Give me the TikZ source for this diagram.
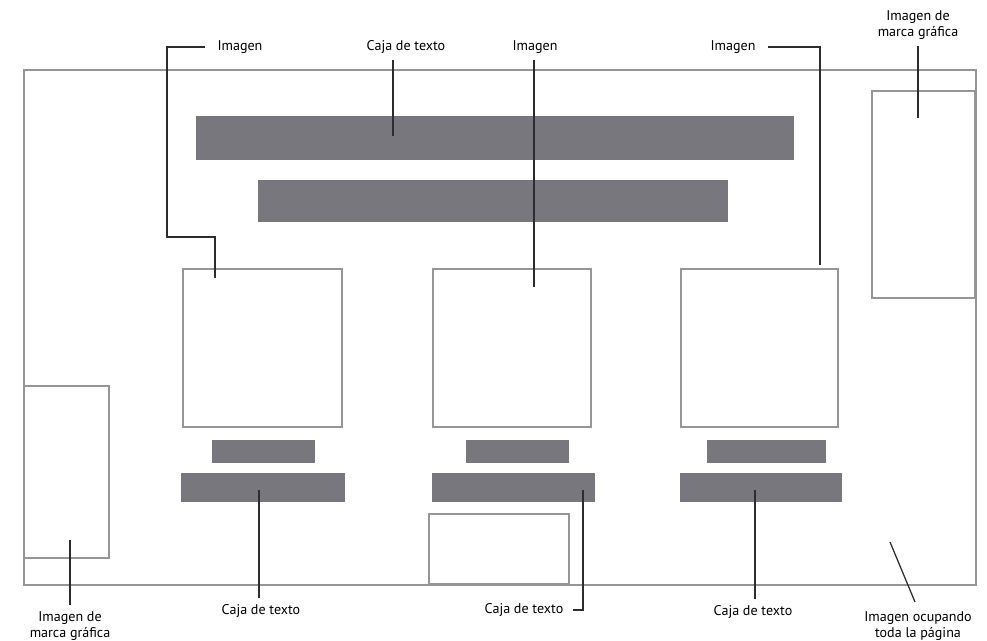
\documentclass[tikz,border=0pt]{standalone}
\usepackage{fontspec}
\setmainfont{PT Sans}
\usetikzlibrary{calc, positioning}
\definecolor{barfill}{RGB}{121,119,126}
\definecolor{framegray}{RGB}{150,150,150}
\definecolor{leadgray}{RGB}{45,45,45}

\tikzset{
  frame/.style={draw=framegray, line width=0.8pt},
  bar/.style={fill=barfill},
  lbl/.style={font=\fontsize{10}{11}\selectfont, inner sep=1pt, align=center, text=black},
  lead/.style={draw=leadgray, line width=0.9pt},
}

\begin{document}
\begin{tikzpicture}[x=0.025cm, y=-0.025cm]
    \useasboundingbox (0,0) rectangle (987,640);
    % page and loose boxes
    \draw[frame] (24,70) rectangle (976,585);
    \draw[frame] (872,91) rectangle (975,298);
    \draw[frame] (24,386) rectangle (109,558);
    \draw[frame] (429,514) rectangle (569,584);
    % title bars
    \fill[bar] (196,116) rectangle (794,160);
    \fill[bar] (258,180) rectangle (728,222);
    % the three columns
    \foreach \xa/\xb/\sa/\sb/\wa/\wb in {183/342/212/315/181/345,
                                         433/591/466/569/432/595,
                                         681/838/707/826/680/842}
    {
        \draw[frame] (\xa,269) rectangle (\xb,427);
        \fill[bar] (\sa,440) rectangle (\sb,463);
        \fill[bar] (\wa,473) rectangle (\wb,502);
    }

    % labels
    \node[lbl] (imgA)   at (240,47)  {Imagen};
    \node[lbl] (cajaT)  at (406,47)  {Caja de texto};
    \node[lbl] (imgB)   at (535,47)  {Imagen};
    \node[lbl] (imgC)   at (733,47)  {Imagen};
    \node[lbl] (marcaT) at (918,25)  {Imagen de\\marca gráfica};
    \node[lbl] (marcaB) at (70,626)  {Imagen de\\marca gráfica};
    \node[lbl] (cajaA)  at (261,611) {Caja de texto};
    \node[lbl] (cajaB)  at (524,610) {Caja de texto};
    \node[lbl] (cajaC)  at (753,612) {Caja de texto};
    \node[lbl] (pagina) at (918,626) {Imagen ocupando\\toda la página};

    % leader ends
    \coordinate (imgAend)   at (215,278);
    \coordinate (cajaTend)  at (393,136);
    \coordinate (imgBend)   at (534,287);
    \coordinate (imgCend)   at (820,265);
    \coordinate (marcaTend) at (918,118);
    \coordinate (marcaBend) at (70,540);
    \coordinate (cajaAend)  at (259,490);
    \coordinate (cajaBend)  at (583,490);
    \coordinate (cajaCend)  at (755,490);
    \coordinate (paginaend) at (890,542);

    % leaders
    \draw[lead, shorten <=8pt] (imgA.west) -| (167,237) -| (imgAend);
    \draw[lead, shorten >=8pt] (imgCend) |- (imgC.east);
    \draw[lead, shorten >=6pt] (cajaBend) |- (cajaB.east);
    \draw[lead] (cajaTend |- cajaT.south) ++(0,5) -- (cajaTend);
    \draw[lead] (imgBend |- imgB.south) ++(0,5) -- (imgBend);
    \draw[lead] (marcaT.south) ++(0,5) -- (marcaTend);
    \draw[lead] (marcaB.north) ++(0,-5) -- (marcaBend);
    \draw[lead] (cajaAend |- cajaA.north) ++(0,-5) -- (cajaAend);
    \draw[lead] (cajaCend |- cajaC.north) ++(0,-5) -- (cajaCend);
    \draw[lead] (915,602) -- (paginaend);
\end{tikzpicture}
\end{document}
